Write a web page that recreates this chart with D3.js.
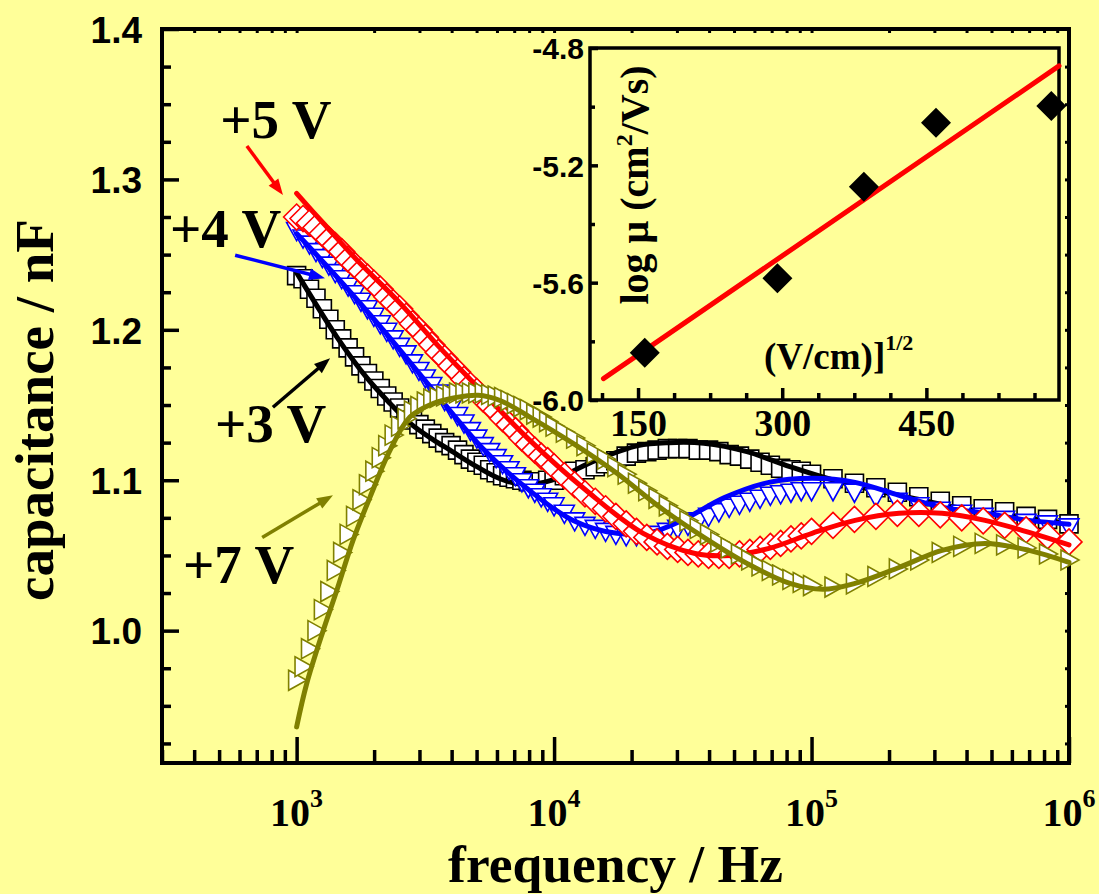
<!DOCTYPE html>
<html>
<head>
<meta charset="utf-8">
<script src="https://cdn.jsdelivr.net/npm/d3@7"></script>
<style>
  html, body { margin: 0; padding: 0; background: #FFFF99; }
  svg { display: block; }
</style>
</head>
<body>
<svg id="chart" width="1099" height="894"></svg>
<script>
// ---- measured frequencies (Hz) shared by all bias voltages ----
const freqHz = [1000,1059,1122,1189,1259,1334,1413,1496,1585,1679,1778,1884,1995,2113,2239,2371,2512,2661,2818,2985,
  3162,3350,3548,3758,3981,4217,4467,4732,5012,5309,5623,5957,6310,6683,7079,7499,7943,8414,8913,9441,10000,
  10965,12023,13183,14454,15849,17378,19055,20893,22909,25119,27542,30200,33113,36308,39811,43652,47863,52481,57544,
  63096,69183,75858,83176,91201,100000,
  121153,146780,177828,215443,261016,316228,383119,464159,562341,681292,825404,1000000];

// ---- measured capacitance (nF) ----
const cap3V = [1.236,1.234,1.227,1.221,1.214,1.207,1.200,1.194,1.188,1.182,1.176,1.171,1.166,1.161,1.156,1.152,1.148,1.144,1.140,1.137,
  1.134,1.131,1.128,1.125,1.123,1.120,1.117,1.114,1.112,1.110,1.107,1.105,1.103,1.102,1.101,1.100,1.099,1.099,1.099,1.100,1.100,
  1.103,1.106,1.107,1.109,1.111,1.113,1.116,1.118,1.119,1.120,1.121,1.121,1.121,1.120,1.120,1.119,1.117,1.116,1.114,1.112,1.110,1.108,1.107,1.106,1.104,
  1.101,1.098,1.095,1.092,1.089,1.086,1.083,1.081,1.079,1.076,1.074,1.071];
const cap4V = [1.266,1.261,1.257,1.252,1.248,1.243,1.238,1.234,1.229,1.224,1.219,1.214,1.209,1.204,1.199,1.194,1.189,1.184,1.178,1.173,
  1.168,1.163,1.158,1.153,1.148,1.143,1.138,1.133,1.128,1.123,1.119,1.115,1.111,1.107,1.103,1.099,1.095,1.092,1.089,1.086,1.083,
  1.078,1.073,1.070,1.068,1.066,1.064,1.063,1.063,1.063,1.064,1.066,1.068,1.070,1.073,1.076,1.079,1.082,1.084,1.086,1.088,1.090,1.091,1.092,1.093,1.093,
  1.093,1.092,1.089,1.086,1.083,1.080,1.078,1.076,1.074,1.072,1.071,1.069];
const cap5V = [1.275,1.274,1.271,1.268,1.264,1.260,1.256,1.252,1.247,1.243,1.239,1.235,1.231,1.227,1.222,1.218,1.214,1.209,1.204,1.200,
  1.195,1.190,1.185,1.181,1.176,1.172,1.167,1.163,1.159,1.154,1.150,1.146,1.141,1.137,1.133,1.128,1.124,1.120,1.116,1.113,1.109,
  1.103,1.097,1.091,1.086,1.081,1.076,1.071,1.066,1.062,1.059,1.056,1.054,1.052,1.051,1.050,1.050,1.050,1.051,1.052,1.054,1.056,1.058,1.061,1.063,1.066,
  1.070,1.074,1.076,1.078,1.078,1.077,1.075,1.073,1.070,1.067,1.063,1.059];
const cap7V = [0.967,0.976,0.988,1.000,1.014,1.026,1.040,1.052,1.064,1.076,1.087,1.097,1.106,1.115,1.123,1.130,1.136,1.141,1.146,1.149,
  1.152,1.154,1.155,1.156,1.157,1.158,1.158,1.158,1.158,1.158,1.157,1.156,1.155,1.153,1.151,1.149,1.147,1.144,1.142,1.139,1.136,
  1.132,1.128,1.123,1.118,1.114,1.109,1.104,1.098,1.093,1.088,1.083,1.078,1.073,1.068,1.064,1.059,1.055,1.051,1.047,1.043,1.040,1.037,1.034,1.032,1.030,
  1.029,1.031,1.036,1.041,1.047,1.052,1.056,1.058,1.057,1.055,1.051,1.047];

// ---- model fit curves ----
const fitFreq3V = [1000,1436,1875,2307,2754,3388,3945,5012,6166,7709,9817,14420,21180,27925,38194,56105,82414,122180,179473,263633,390841,574116,1000000];
const fit3V     = [1.238,1.195,1.168,1.151,1.138,1.127,1.120,1.109,1.101,1.097,1.100,1.113,1.123,1.125,1.1246,1.119,1.109,1.100,1.093,1.087,1.081,1.077,1.071];
const fitFreq4V = [1000,1436,2168,3388,5297,8054,11858,17539,23768,31405,46132,68391,100462,147571,218776,321366,472063,699842,1000000];
const fit4V     = [1.264,1.235,1.200,1.160,1.121,1.093,1.0733,1.0647,1.0653,1.0733,1.0886,1.0986,1.1013,1.0986,1.090,1.082,1.078,1.0733,1.0707];
const fitFreq5V = [1000,1268,1718,2523,3606,4667,8054,13305,22182,35318,48195,68391,100462,147571,218776,321366,472063,699842,1000000];
const fit5V     = [1.2907,1.271,1.2463,1.2177,1.188,1.168,1.1265,1.0933,1.0647,1.0513,1.050,1.0547,1.0647,1.0733,1.078,1.078,1.0733,1.0653,1.057];
const fitFreq7V = [1000,1094,1268,1432,1656,1928,2307,2754,3388,4159,5070,6166,8054,11858,17539,25763,38194,56105,82414,110662,147571,218776,321366,472063,699842,1000000];
const fit7V     = [0.936,0.9647,1.000,1.0267,1.060,1.0888,1.120,1.142,1.151,1.155,1.1565,1.153,1.142,1.1245,1.1046,1.082,1.062,1.0447,1.0314,1.0275,1.0314,1.042,1.0534,1.058,1.0534,1.0454];

// ---- axis ticks ----
const capTicks = [1.0, 1.1, 1.2, 1.3, 1.4];
const freqTicks = [1e3, 1e4, 1e5, 1e6];
const freqTickExp = ["3", "4", "5", "6"];

// ---- voltage annotations (label anchor and arrow in data units) ----
const voltLabels = ["+5 V", "+4 V", "+3 V", "+7 V"];
const labelFreq  = [505, 322, 482, 362];
const labelCap   = [1.3275, 1.255, 1.1252, 1.0314];
const arrowFrom  = [[641, 1.3222], [577, 1.2496], [809, 1.1485], [735, 1.062]];
const arrowTo    = [[885, 1.2896], [1289, 1.2343], [1349, 1.1811], [1384, 1.090]];
const arrowColor = ["#FF0000", "#0000FF", "#000000", "#808000"];

// ---- inset: mobility vs square root of field ----
const fieldSqrt = [157, 295, 385, 460, 580];
const logMu     = [-5.839, -5.585, -5.273, -5.055, -4.998];
const fitField  = [114, 588];
const fitLogMu  = [-5.927, -4.861];
const insetYTicks = [-6.0, -5.6, -5.2, -4.8];
const insetXTicks = [150, 300, 450];

const SERIF = "'Liberation Serif','Times New Roman',serif";
const SANS  = "'Liberation Sans',Arial,sans-serif";
const BG = "#FFFF99";

const W = 1099, H = 894;
const svg = d3.select("#chart");
svg.append("rect").attr("width", W).attr("height", H).attr("fill", BG);

const M = { left: 162, right: 1069, top: 29, bottom: 763 };
const x = d3.scaleLog().domain([300, 1e6]).range([M.left, M.right]);
const y = d3.scaleLinear().domain([0.912, 1.4]).range([M.bottom, M.top]);

function styleAxis(g, w) {
  g.select(".domain").remove();
  g.selectAll(".tick line").attr("stroke", "#000").attr("stroke-width", w);
}
// plain hyphen-minus for negative tick labels
const fmt1 = v => v.toFixed(1);

const isPow10 = d => Math.abs(Math.log10(d) - Math.round(Math.log10(d))) < 1e-9;
const freqAll = x.ticks();
const freqMinor = freqAll.filter(d => !isPow10(d));
const capAll = d3.range(37, 57).map(k => +(k * 0.025).toFixed(3));
const capMinor = capAll.filter(v => !capTicks.some(t => Math.abs(t - v) < 1e-6));

// bottom axis ticks (inward)
svg.append("g").attr("transform", `translate(0,${M.bottom})`)
  .call(d3.axisBottom(x).tickValues(freqMinor).tickSize(-13).tickFormat(""))
  .call(g => styleAxis(g, 3.5));
svg.append("g").attr("transform", `translate(0,${M.bottom})`)
  .call(d3.axisBottom(x).tickValues(freqTicks).tickSize(-26).tickFormat(""))
  .call(g => styleAxis(g, 3.5));
// top axis nubs
svg.append("g").attr("transform", `translate(0,${M.top})`)
  .call(d3.axisTop(x).tickValues(freqAll).tickSize(-4).tickFormat(""))
  .call(g => styleAxis(g, 3));

// left axis ticks and labels
svg.append("g").attr("transform", `translate(${M.left},0)`)
  .call(d3.axisLeft(y).tickValues(capMinor).tickSize(-9).tickFormat(""))
  .call(g => styleAxis(g, 3.5));
svg.append("g").attr("transform", `translate(${M.left},0)`)
  .call(d3.axisLeft(y).tickValues(capTicks).tickSize(-17).tickPadding(20).tickFormat(fmt1))
  .call(g => styleAxis(g, 3.5))
  .call(g => g.selectAll(".tick text")
    .attr("font-family", SANS).attr("font-weight", "bold").attr("font-size", 37)
    .attr("fill", "#000").attr("dy", "0.36em"));
// right axis nubs
svg.append("g").attr("transform", `translate(${M.right},0)`)
  .call(d3.axisRight(y).tickValues(capAll).tickSize(-4).tickFormat(""))
  .call(g => styleAxis(g, 3));

// frequency tick labels 10^n
const xl = svg.append("g");
freqTicks.forEach((t, i) => {
  const tx = xl.append("text").attr("x", x(t)).attr("y", 825.5).attr("text-anchor", "middle")
    .attr("font-family", SERIF).attr("font-weight", "bold").attr("font-size", 40).attr("fill", "#000");
  tx.append("tspan").text("10");
  tx.append("tspan").attr("dy", -19).attr("font-size", 26).text(freqTickExp[i]);
});

// frame
svg.append("rect").attr("x", M.left).attr("y", M.top)
  .attr("width", M.right - M.left).attr("height", M.bottom - M.top)
  .attr("fill", "none").attr("stroke", "#000").attr("stroke-width", 4);

// axis titles
svg.append("text").attr("x", (M.left + M.right) / 2).attr("y", 882.2).attr("text-anchor", "middle")
  .attr("font-family", SERIF).attr("font-weight", "bold").attr("font-size", 53.5).attr("fill", "#000")
  .text("frequency / Hz");
svg.append("text").attr("transform", `translate(53,410) rotate(-90)`)
  .attr("text-anchor", "middle")
  .attr("font-family", SERIF).attr("font-weight", "bold").attr("font-size", 55).attr("fill", "#000")
  .text("capacitance / nF");

// ---- data series ----
const symbolPath = {
  square:   "M-9,-9H9V9H-9Z",
  diamond:  "M0,-13L13,0L0,13L-13,0Z",
  triDown:  "M-10,-8L10,-8L0,10Z",
  triRight: "M-8,-10L10,0L-8,10Z"
};
const series = [
  { color: "#000000", symbol: "square",   cap: cap3V, fitF: fitFreq3V, fitC: fit3V },
  { color: "#0000FF", symbol: "triDown",  cap: cap4V, fitF: fitFreq4V, fitC: fit4V },
  { color: "#FF0000", symbol: "diamond",  cap: cap5V, fitF: fitFreq5V, fitC: fit5V },
  { color: "#808000", symbol: "triRight", cap: cap7V, fitF: fitFreq7V, fitC: fit7V }
];
const fitLine = d3.line().x(d => x(d[0])).y(d => y(d[1])).curve(d3.curveCatmullRom.alpha(0.5));

const dataG = svg.append("g");
series.forEach(s => {
  const g = dataG.append("g");
  g.selectAll("path.pt").data(freqHz.map((f, i) => [f, s.cap[i]])).join("path")
    .attr("class", "pt")
    .attr("d", symbolPath[s.symbol])
    .attr("transform", d => `translate(${x(d[0])},${y(d[1])})`)
    .attr("fill", "#fff").attr("stroke", s.color).attr("stroke-width", 1.6)
    .attr("stroke-linejoin", "miter");
  g.append("path").datum(s.fitF.map((f, i) => [f, s.fitC[i]]))
    .attr("d", fitLine).attr("fill", "none").attr("stroke", s.color)
    .attr("stroke-width", 5).attr("stroke-linecap", "round").attr("stroke-linejoin", "round");
});

// ---- annotations ----
function arrow(g, p1, p2, color) {
  const dx = p2[0] - p1[0], dy = p2[1] - p1[1], L = Math.hypot(dx, dy);
  const ux = dx / L, uy = dy / L, hl = 16, hw = 6;
  const bx = p2[0] - ux * hl, by = p2[1] - uy * hl;
  g.append("line").attr("x1", p1[0]).attr("y1", p1[1]).attr("x2", bx + ux * 3).attr("y2", by + uy * 3)
    .attr("stroke", color).attr("stroke-width", 3.5);
  g.append("path").attr("d", `M${p2[0]},${p2[1]}L${bx - uy * hw},${by + ux * hw}L${bx + uy * hw},${by - ux * hw}Z`)
    .attr("fill", color);
}
const ann = svg.append("g");
voltLabels.forEach((t, i) => {
  ann.append("text").attr("x", x(labelFreq[i])).attr("y", y(labelCap[i]))
    .attr("font-family", SERIF).attr("font-weight", "bold").attr("font-size", 55).attr("fill", "#000")
    .text(t);
  arrow(ann, [x(arrowFrom[i][0]), y(arrowFrom[i][1])], [x(arrowTo[i][0]), y(arrowTo[i][1])], arrowColor[i]);
});

// ---- inset ----
const I = { left: 590, right: 1059, top: 48, bottom: 400 };
const ix = d3.scaleLinear().domain([100, 588]).range([I.left, I.right]);
const iy = d3.scaleLinear().domain([-6.0, -4.8]).range([I.bottom, I.top]);
const inset = svg.append("g");
inset.append("rect").attr("x", I.left).attr("y", I.top)
  .attr("width", I.right - I.left).attr("height", I.bottom - I.top).attr("fill", BG);

const insetXMinor = d3.range(112.5, 588, 37.5).filter(v => !insetXTicks.includes(v));
const insetYMinor = [-5.8, -5.4, -5.0];
inset.append("g").attr("transform", `translate(0,${I.bottom})`)
  .call(d3.axisBottom(ix).tickValues(insetXMinor).tickSize(-7).tickFormat(""))
  .call(g => styleAxis(g, 3.5));
inset.append("g").attr("transform", `translate(0,${I.bottom})`)
  .call(d3.axisBottom(ix).tickValues(insetXTicks).tickSize(-12).tickFormat(d3.format("d")))
  .call(g => styleAxis(g, 3.5))
  .call(g => g.selectAll(".tick text")
    .attr("font-family", SERIF).attr("font-weight", "bold").attr("font-size", 38).attr("fill", "#000")
    .attr("dy", "0.71em").attr("y", 9));
inset.append("g").attr("transform", `translate(${I.left},0)`)
  .call(d3.axisLeft(iy).tickValues(insetYMinor).tickSize(-5).tickFormat(""))
  .call(g => styleAxis(g, 3.5));
inset.append("g").attr("transform", `translate(${I.left},0)`)
  .call(d3.axisLeft(iy).tickValues(insetYTicks).tickSize(-8).tickPadding(6).tickFormat(fmt1))
  .call(g => styleAxis(g, 3.5))
  .call(g => g.selectAll(".tick text")
    .attr("font-family", SANS).attr("font-weight", "bold").attr("font-size", 30).attr("fill", "#000")
    .attr("dy", "0.36em"));
inset.append("rect").attr("x", I.left).attr("y", I.top)
  .attr("width", I.right - I.left).attr("height", I.bottom - I.top)
  .attr("fill", "none").attr("stroke", "#000").attr("stroke-width", 3.5);

inset.append("path").datum(fitField.map((f, i) => [f, fitLogMu[i]]))
  .attr("d", d3.line().x(d => ix(d[0])).y(d => iy(d[1])))
  .attr("stroke", "#FF0000").attr("stroke-width", 5).attr("stroke-linecap", "round").attr("fill", "none");
inset.selectAll("path.mu").data(fieldSqrt.map((f, i) => [f, logMu[i]])).join("path")
  .attr("class", "mu").attr("d", "M0,-15L15,0L0,15L-15,0Z")
  .attr("transform", d => `translate(${ix(d[0])},${iy(d[1])})`).attr("fill", "#000");

const ylab = inset.append("text").attr("transform", `translate(648,185) rotate(-90)`)
  .attr("text-anchor", "middle")
  .attr("font-family", SERIF).attr("font-weight", "bold").attr("font-size", 40).attr("fill", "#000");
ylab.append("tspan").text("log \u03bc (cm");
ylab.append("tspan").attr("dy", -16).attr("font-size", 24).text("2");
ylab.append("tspan").attr("dy", 16).text("/Vs)");

const xlab = inset.append("text").attr("x", 764).attr("y", 369)
  .attr("font-family", SERIF).attr("font-weight", "bold").attr("font-size", 37).attr("fill", "#000");
xlab.append("tspan").text("(V/cm)]");
xlab.append("tspan").attr("dy", -19).attr("font-size", 22).text("1/2");
</script>
</body>
</html>
